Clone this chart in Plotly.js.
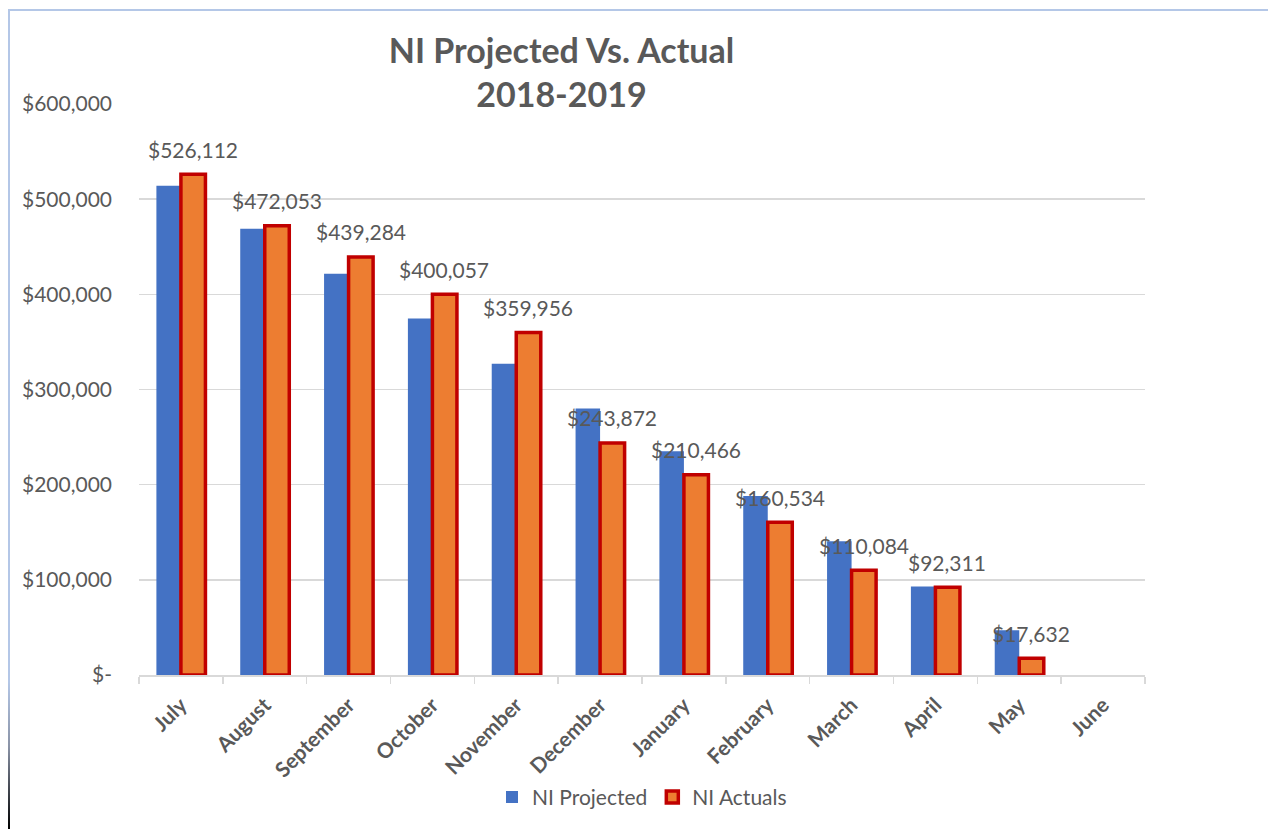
<!DOCTYPE html>
<html>
<head>
<meta charset="utf-8">
<script src="https://cdn.plot.ly/plotly-3.0.1.min.js"></script>
<style>
  html, body { margin: 0; padding: 0; background: #ffffff; }
  #chart { width: 1268px; height: 829px; position: absolute; left: 0; top: 0; }
  #btop { position: absolute; left: 9px; top: 9px; width: 1259px; height: 2px; background: #b4c7e7; z-index: 5; }
  #bleft { position: absolute; left: 8px; top: 9px; width: 2px; height: 820px; z-index: 5;
           background: linear-gradient(to bottom, #b4c7e7 0%, #b4c7e7 82%, #8a93a6 90%, #000000 100%); }
</style>
</head>
<body>
<div id="chart"></div>
<div id="btop"></div>
<div id="bleft"></div>
<script>
const months = ["July","August","September","October","November","December","January","February","March","April","May","June"];
const projected = [514000, 469000, 421500, 374500, 327000, 280000, 235000, 188000, 140500, 93000, 47000, null];
const actuals = [526112, 472053, 439284, 400057, 359956, 243872, 210466, 160534, 110084, 92311, 17632, null];
const yTickVals = [0, 100000, 200000, 300000, 400000, 500000, 600000];
const yTickText = ["$-", "$100,000", "$200,000", "$300,000", "$400,000", "$500,000", "$600,000"];

const FONT = "Lato, 'Open Sans', sans-serif";
const GRAY = "#595959";

const traces = [
  {
    type: "bar", name: "NI Projected", x: months, y: projected,
    marker: { color: "#4472c4", line: { width: 0 } },
    hoverinfo: "x+y"
  },
  {
    type: "bar", name: "NI Actuals", x: months, y: actuals,
    marker: { color: "#ed7d31", line: { color: "#c00000", width: 3.5 } },
    hoverinfo: "x+y"
  }
];

const annotations = [];
actuals.forEach((v, i) => {
  if (v === null) return;
  annotations.push({
    x: months[i], y: v, xref: "x", yref: "y",
    text: "$" + v.toLocaleString("en-US"),
    showarrow: false, xshift: 12, yshift: 25, yanchor: "middle", xanchor: "center",
    font: { family: FONT, size: 21, color: GRAY }
  });
});

const layout = {
  width: 1268, height: 829,
  paper_bgcolor: "#ffffff", plot_bgcolor: "#ffffff",
  margin: { l: 139, r: 123, t: 104, b: 153 },
  font: { family: FONT, color: GRAY },
  title: {
    text: "<b>NI Projected Vs. Actual<br>2018-2019</b>",
    x: 0.4428, xanchor: "center", xref: "container",
    y: 0.9244, yanchor: "middle", yref: "container",
    font: { family: FONT, size: 34, color: GRAY }
  },
  barmode: "group", bargap: 0.415, bargroupgap: 0,
  xaxis: {
    type: "category", tickangle: -45,
    tickson: "boundaries", ticks: "outside", ticklen: 7, tickcolor: "#d9d9d9", tickwidth: 1.5,
    showline: true, linecolor: "#d9d9d9", linewidth: 1.5,
    showgrid: false, zeroline: false,
    ticklabelstandoff: 8,
    tickfont: { family: FONT, size: 21, color: GRAY, weight: "bold" }
  },
  yaxis: {
    range: [0, 600000], tickvals: yTickVals, ticktext: yTickText,
    showgrid: true, gridcolor: "#d9d9d9", gridwidth: 1.5,
    zeroline: false, showline: false, ticks: "",
    ticklabelstandoff: 26,
    tickfont: { family: FONT, size: 21, color: GRAY }
  },
  legend: {
    orientation: "h", x: 0.5, xanchor: "center", y: -0.212, yanchor: "middle",
    font: { family: FONT, size: 21, color: GRAY },
    itemwidth: 30, traceorder: "normal"
  },
  annotations: annotations,
  showlegend: true
};

Plotly.newPlot("chart", traces, layout, { displayModeBar: false, staticPlot: true });
</script>
</body>
</html>
